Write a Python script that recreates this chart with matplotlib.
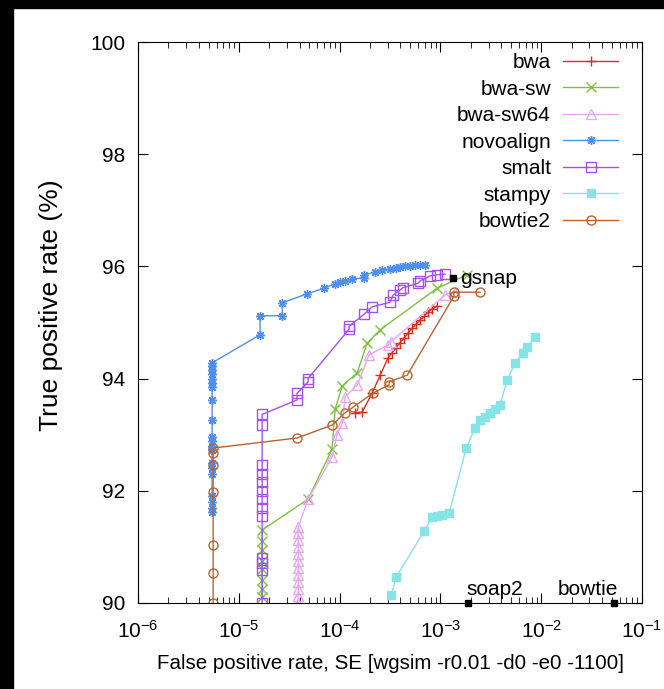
import numpy as np
import matplotlib.pyplot as plt
from matplotlib.patches import Rectangle

# data (FPR, TPR %)
bwa_x = [1.42e-4, 1.67e-4, 2.10e-4, 2.52e-4, 3.02e-4, 3.31e-4, 3.63e-4, 3.97e-4, 4.35e-4,
         4.77e-4, 5.23e-4, 5.73e-4, 6.28e-4, 6.88e-4, 7.54e-4, 8.26e-4, 9.25e-4]
bwa_y = [93.39, 93.40, 93.74, 94.06, 94.37, 94.46, 94.55, 94.64, 94.72,
         94.81, 94.90, 94.97, 95.04, 95.11, 95.19, 95.24, 95.29]

bwasw_x = [1.70e-5] * 8 + [4.86e-5, 8.4e-5, 9.0e-5, 1.06e-4, 1.49e-4, 1.87e-4, 2.52e-4, 9.25e-4, 1.84e-3]
bwasw_y = [90.1, 90.25, 90.4, 90.6, 90.75, 90.95, 91.1, 91.3,
           91.85, 92.74, 93.45, 93.87, 94.10, 94.63, 94.87, 95.61, 95.85]

bwasw64_x = [3.87e-5] * 12 + [4.86e-5, 8.4e-5, 9.4e-5, 1.06e-4, 1.13e-4, 1.5e-4, 1.95e-4, 3.0e-4, 3.2e-4, 1.11e-3, 1.4e-3]
bwasw64_y = [90.0, 90.12, 90.25, 90.37, 90.5, 90.62, 90.75, 90.87, 91.0, 91.12, 91.25, 91.35,
             91.85, 92.6, 93.0, 93.2, 93.67, 93.89, 94.42, 94.6, 94.65, 95.49, 95.55]

novo_x = [5.42e-6] * 20 + [1.62e-5, 1.62e-5, 2.69e-5, 2.69e-5, 4.75e-5, 7.0e-5, 9.0e-5, 1.0e-4,
                           1.13e-4, 1.33e-4, 1.75e-4, 1.75e-4, 2.25e-4, 2.6e-4, 3.16e-4, 3.6e-4,
                           4.0e-4, 4.46e-4, 5.0e-4, 5.6e-4, 6.3e-4, 7.0e-4]
novo_y = [91.62, 91.7, 91.8, 91.9, 92.3, 92.4, 92.5, 92.73, 92.8, 92.88, 92.96, 93.26, 93.62,
          93.85, 93.92, 94.0, 94.08, 94.15, 94.22, 94.28,
          94.78, 95.12, 95.12, 95.35, 95.51, 95.61, 95.69, 95.72, 95.74, 95.77, 95.8, 95.85,
          95.9, 95.93, 95.95, 95.97, 95.98, 96.0, 96.01, 96.02, 96.02, 96.02]

smalt_x = [1.70e-5] * 13 + [3.78e-5, 3.78e-5, 4.86e-5, 4.86e-5, 1.24e-4, 1.24e-4, 1.75e-4, 2.10e-4,
                            3.16e-4, 3.39e-4, 3.97e-4, 4.25e-4, 6.0e-4, 6.28e-4, 7.9e-4, 9.25e-4, 1.11e-3]
smalt_y = [90.0, 90.59, 90.71, 90.8, 91.55, 91.7, 91.85, 92.0, 92.15, 92.3, 92.45, 93.17, 93.36,
           93.62, 93.74, 93.94, 94.0, 94.88, 94.93, 95.15, 95.28,
           95.36, 95.49, 95.58, 95.62, 95.70, 95.74, 95.83, 95.85, 95.86]

stampy_x = [3.24e-4, 3.63e-4, 6.88e-4, 8.26e-4, 9.25e-4, 1.04e-3, 1.22e-3, 1.80e-3, 2.20e-3,
            2.47e-3, 2.77e-3, 3.11e-3, 3.48e-3, 3.90e-3, 4.58e-3, 5.50e-3, 6.60e-3, 7.22e-3, 8.67e-3]
stampy_y = [90.14, 90.46, 91.28, 91.53, 91.55, 91.57, 91.60, 92.76, 93.12,
            93.26, 93.32, 93.39, 93.46, 93.53, 93.97, 94.28, 94.46, 94.56, 94.74]

bowtie2_x = [5.55e-6] * 7 + [3.78e-5, 8.4e-5, 1.13e-4, 1.36e-4, 2.14e-4, 3.09e-4, 3.09e-4, 4.67e-4,
                             1.36e-3, 1.36e-3, 2.47e-3]
bowtie2_y = [90.0, 90.53, 91.03, 91.98, 92.46, 92.67, 92.76, 92.94, 93.17, 93.39, 93.49, 93.74,
             93.89, 93.94, 94.06, 95.47, 95.54, 95.54]

single_names = ['gsnap', 'soap2', 'bowtie']
single_x = [1.33e-3, 1.88e-3, 5.27e-2]
single_y = [95.79, 90.0, 90.0]

series = [
    ('bwa', bwa_x, bwa_y, '#d8301c', '+', 'none'),
    ('bwa-sw', bwasw_x, bwasw_y, '#7cc23a', 'x', 'none'),
    ('bwa-sw64', bwasw64_x, bwasw64_y, '#e9a6f7', '^', 'none'),
    ('novoalign', novo_x, novo_y, '#4f8ff2', (8, 2, 0), 'none'),
    ('smalt', smalt_x, smalt_y, '#a550f0', 's', 'none'),
    ('stampy', stampy_x, stampy_y, '#86e3e6', 's', 'full'),
    ('bowtie2', bowtie2_x, bowtie2_y, '#b8642e', 'o', 'none'),
]

plt.rcParams['font.family'] = ['Liberation Sans', 'DejaVu Sans']

fig = plt.figure(figsize=(6.64, 6.89), dpi=100)
ax = fig.add_axes([0.208, 0.125, 0.759, 0.814])

for name, xs, ys, col, mk, fill in series:
    if fill == 'full':
        ax.plot(xs, ys, color=col, lw=1.0, marker=mk, ms=6, mfc=col, mec=col, label=name)
    else:
        ax.plot(xs, ys, color=col, lw=1.0, marker=mk, ms=6.5, mfc='none', mec=col, mew=1.0, label=name)

ax.plot(single_x, single_y, 's', color='black', ms=5, clip_on=False, zorder=5)
ax.annotate(single_names[0], (single_x[0], single_y[0]), xytext=(5, 0), textcoords='offset points',
            ha='left', va='center', fontsize=15)
ax.annotate(single_names[1], (single_x[1], single_y[1]), xytext=(-1, 3), textcoords='offset points',
            ha='left', va='bottom', fontsize=15)
ax.annotate(single_names[2], (single_x[2], single_y[2]), xytext=(3, 3), textcoords='offset points',
            ha='right', va='bottom', fontsize=15)

ax.set_xscale('log')
ax.set_xlim(1e-6, 1e-1)
ax.set_ylim(90, 100)
ax.set_yticks([90, 92, 94, 96, 98, 100])
ax.tick_params(which='both', direction='in', top=True, right=True, labelsize=15)
ax.tick_params(axis='x', pad=12)
ax.tick_params(axis='y', pad=9)
ax.tick_params(which='major', length=7)
ax.tick_params(which='minor', length=4)
ax.set_xlabel('False positive rate, SE [wgsim -r0.01 -d0 -e0 -1100]', fontsize=14.8, labelpad=9)
ax.set_ylabel('True positive rate (%)', fontsize=19)
ax.yaxis.set_label_coords(-0.15, 0.53)

leg = ax.legend(loc='upper right', bbox_to_anchor=(0.968, 0.995), borderaxespad=0, frameon=False,
                markerfirst=False, fontsize=15, handlelength=2.6, handletextpad=0.6, labelspacing=0.36)

# black frame strips at top and left of the original screenshot
fig.patches.append(Rectangle((0, 0.989), 1, 0.011, transform=fig.transFigure, color='black'))
fig.patches.append(Rectangle((0, 0), 0.019, 1, transform=fig.transFigure, color='black'))

fig.savefig('out.png', dpi=100)
